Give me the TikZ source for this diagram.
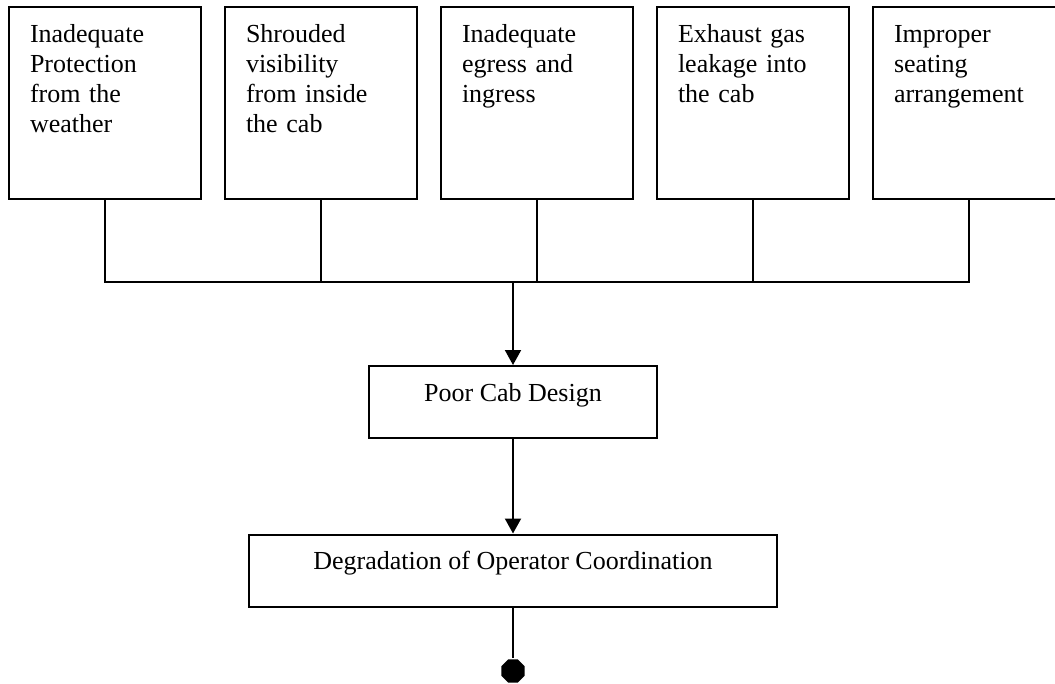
\documentclass[tikz,border=0pt]{standalone}
\usepackage{fontspec}
\setmainfont{Liberation Serif}
\usepackage{tikz}
\usetikzlibrary{shapes,arrows,positioning,calc,arrows.meta}

\begin{document}
\begin{tikzpicture}[x=1pt, y=-1pt, line width=2pt,
    txt/.style={font=\fontsize{26}{30}\selectfont},
    cause/.style={txt, draw, align=left, text width=150pt, inner xsep=21pt, inner ysep=10pt, text height=25pt, text depth=147pt},
    result/.style={txt, draw, align=center, inner ysep=10pt, text height=25pt, text depth=27pt}]
        \clip (0,0) rectangle (1055,683);

        % contributing factors
        \node[cause] (weather) at (105,103) {Inadequate\\Protection\\from the\\weather};
        \node[cause] (vis) at (321,103) {Shrouded\\visibility\\from inside\\the cab};
        \node[cause] (egress) at (537,103) {Inadequate\\egress and\\ingress};
        \node[cause] (exhaust) at (753,103) {Exhaust gas\\leakage into\\the cab};
        \node[cause] (seat) at (969,103) {Improper\\seating\\arrangement};

        \coordinate (bus) at (513,282);
        \draw (weather.south) -- (weather.south |- bus) -- (seat.south |- bus) -- (seat.south);
        \draw (vis.south) -- (vis.south |- bus);
        \draw (egress.south) -- (egress.south |- bus);
        \draw (exhaust.south) -- (exhaust.south |- bus);

        % effects
        \node[result, minimum width=288pt] (cab) at (513,402) {Poor Cab Design};
        \node[result, minimum width=528pt] (coord) at (513,570.5) {Degradation of Operator Coordination};
        \node[fill, regular polygon, regular polygon sides=8, minimum size=25pt, inner sep=0pt] (stop) at (513,671) {};

        \draw[-{Triangle[width=16pt,length=15pt]}] (bus) -- (cab.north);
        \draw[-{Triangle[width=16pt,length=15pt]}] (cab.south) -- (coord.north);
        \draw (coord.south) -- (stop.north);
    \end{tikzpicture}
\end{document}
